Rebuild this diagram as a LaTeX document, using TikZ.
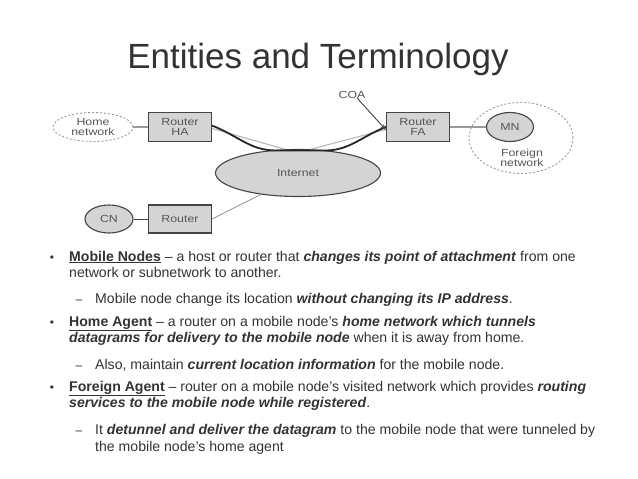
\documentclass[tikz,border=0pt]{standalone}
\usepackage{fontspec}
\setmainfont{Liberation Sans}
\newfontfamily\diagfont[FakeStretch=1.2]{Liberation Sans}
\usetikzlibrary{shapes.geometric,arrows.meta}
\definecolor{txt}{HTML}{333333}
\definecolor{boxfill}{HTML}{D4D4D4}
\definecolor{boxdraw}{HTML}{444444}
\definecolor{dtxt}{HTML}{555555}
\definecolor{link}{HTML}{9A9A9A}
\tikzset{
  dfont/.style={font=\diagfont\fontsize{10.3}{11}\selectfont,text=dtxt},
  dnode/.style={fill=boxfill,draw=boxdraw,line width=1.1pt,inner sep=0pt,align=center,dfont},
  rbox/.style={dnode,rectangle,minimum width=63pt,minimum height=29pt},
  ebox/.style={dnode,ellipse},
  dashnet/.style={ellipse,draw=link,line width=0.9pt,dash pattern=on 2pt off 2pt,inner sep=0pt,
    align=center,dfont},
  plink/.style={draw=link,line width=1.1pt},
  tunnel/.style={draw=black!85,line width=1.8pt},
  body/.style={anchor=base west,inner sep=0pt,font=\fontsize{14.1}{17}\selectfont,text=txt},
  bul/.style={anchor=base,inner sep=0pt,font=\fontsize{12}{13}\selectfont,text=txt},
  dsh/.style={anchor=base,inner sep=0pt,font=\fontsize{12}{14}\selectfont,text=txt},
}
\newcommand{\bi}[1]{\textbf{\textit{#1}}}
\begin{document}
\begin{tikzpicture}[x=1pt,y=-1pt]
\useasboundingbox[fill=white] (0,0) rectangle (638,479);
% title
\node[anchor=base,inner sep=0pt,font=\fontsize{35}{38}\selectfont,text=txt] (title) at (318,68) {Entities and Terminology};
% diagram
\node[dashnet,minimum width=80pt,minimum height=29pt] (home) at (93,127) {Home\\[-1pt]network};
\node[rbox] (ha) at (180,127) {Router\\[-1pt]HA};
\node[ebox,minimum width=165pt,minimum height=47pt] (inet) at (298,173) {Internet};
\node[ebox,minimum width=48pt,minimum height=28pt] (cn) at (109,219) {CN};
\node[rbox,minimum height=28pt] (rtr) at (180,219) {Router};
\node[rbox] (fa) at (418,127) {Router\\[-1pt]FA};
\node[dashnet,minimum width=104pt,minimum height=71pt] (fn) at (521,138) {};
\node[ebox,minimum width=47pt,minimum height=29pt] (mn) at (510,127) {MN};
\node[inner sep=0pt,align=center,dfont] (fnl) at (522,158) {Foreign\\[-1pt]network};
\node[inner sep=0pt,dfont] (coa) at (352,95) {COA};
% links
\draw[plink] (home.east) -- (ha.west);
\draw[draw=boxdraw,line width=1pt] (cn.east) -- (rtr.west);
\draw[plink,line width=0.9pt] (rtr.east) -- (inet.210);
\draw[plink] (fa.east) -- (mn.west);
\coordinate (t1) at ([yshift=1.5pt]ha.east);
\coordinate (t2) at ([yshift=0pt]fa.west);
\coordinate (g1) at ([yshift=-1.5pt]ha.east);
\coordinate (g2) at ([yshift=-2.5pt]fa.west);
\draw[plink,draw=link!70] (g1) -- (inet.119);
\draw[plink,draw=link!70] (inet.62) -- (g2);
\draw[tunnel] (t1) .. controls (240,137) and (250,150) .. (275,150.5) -- (325,150.5) .. controls (350,150.5) and (362,136) .. (t2);
\draw[draw=boxdraw,line width=0.9pt,-{Stealth[length=6pt,width=4.5pt]}] ([xshift=5pt,yshift=1pt]coa.south) -- ([yshift=-3pt]fa.west);
% body text
\node[bul] (b1) at (52,261) {•};
\node[body] (l1) at (69,261) {\underline{\textbf{Mobile Nodes}} – a host or router that \bi{changes its point of attachment} from one};
\node[body] (l2) at (69,277) {network or subnetwork to another.};
\node[dsh] (d1) at (79,303) {–};
\node[body] (l3) at (95,303) {Mobile node change its location \bi{without changing its IP address}.};
\node[bul] (b2) at (52,326) {•};
\node[body] (l4) at (69,326) {\underline{\textbf{Home Agent}} – a router on a mobile node's \bi{home network which tunnels}};
\node[body] (l5) at (69,342) {\bi{datagrams for delivery to the mobile node} when it is away from home.};
\node[dsh] (d2) at (79,369) {–};
\node[body] (l6) at (95,369) {Also, maintain \bi{current location information} for the mobile node.};
\node[bul] (b3) at (52,391) {•};
\node[body] (l7) at (69,391) {\underline{\textbf{Foreign Agent}} – router on a mobile node's visited network which provides \bi{routing}};
\node[body] (l8) at (69,407) {\bi{services to the mobile node while registered}.};
\node[dsh] (d3) at (79,434) {–};
\node[body] (l9) at (95,434) {It \bi{detunnel and deliver the datagram} to the mobile node that were tunneled by};
\node[body] (l10) at (95,451) {the mobile node's home agent};
\end{tikzpicture}
\end{document}
